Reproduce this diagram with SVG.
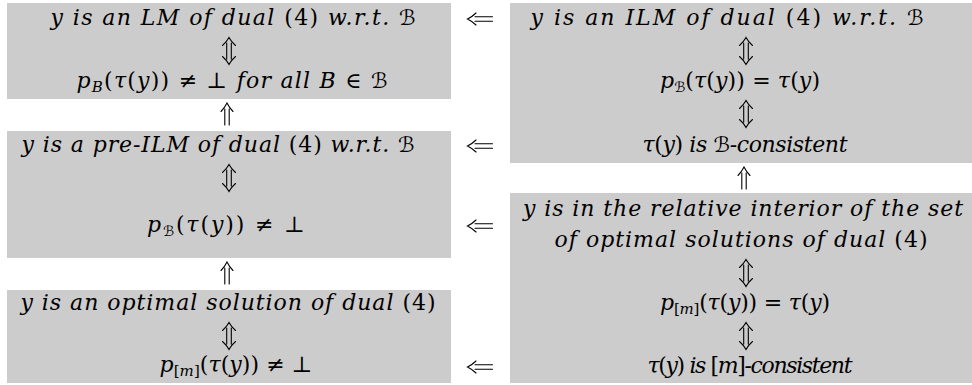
<svg xmlns="http://www.w3.org/2000/svg" xmlns:xlink="http://www.w3.org/1999/xlink" width="972" height="385" viewBox="0 0 972 385">
<style>
.box{fill:#cccccc;stroke:none}
.t{font-family:"DejaVu Serif","Liberation Serif",serif;font-size:22px;font-style:italic;fill:#000;text-anchor:middle}
.u{font-style:normal}
.s{font-size:15px}
.m{font-family:"DejaVu Serif","DejaVu Sans",serif;font-style:normal;font-size:21px}
.sm{font-family:"DejaVu Serif","DejaVu Sans",serif;font-style:normal;font-size:14px}
.arr{fill:none;stroke:#000;stroke-width:1.1;stroke-linecap:round}
</style>
<defs>
<path id="ud" class="arr" d="M-2.3,-8V8M2.3,-8V8M-6.5,-5.5Q-2.5,-9 0,-13.5Q2.5,-9 6.5,-5.5M-6.5,5.5Q-2.5,9 0,13.5Q2.5,9 6.5,5.5"/>
<path id="up" class="arr" d="M-2.2,-5V11M2.2,-5V11M-6,-2.5Q-2.5,-6 0,-11Q2.5,-6 6,-2.5"/>
<path id="lf" class="arr" d="M-5,-2.2H12.5M-5,2.2H12.5M-4,-6Q-7.5,-2.5 -12.5,0Q-7.5,2.5 -4,6"/>
</defs>

<g id="node-lm">
<rect class="box" x="7" y="3" width="444" height="96"/>
<text class="t" x="233" y="25" textLength="365" lengthAdjust="spacing">y is an LM of dual <tspan class="u">(4)</tspan> w.r.t. <tspan class="m">ℬ</tspan></text>
<use xlink:href="#ud" x="229" y="51"/>
<text class="t" x="232" y="88" textLength="311" lengthAdjust="spacing">p<tspan class="s" dy="4">B</tspan><tspan class="u" dy="-4">(</tspan>τ<tspan class="u">(</tspan>y<tspan class="u">)) ≠ ⊥ </tspan>for all B <tspan class="u">∈ </tspan><tspan class="m">ℬ</tspan></text>
</g>

<g id="node-preilm">
<rect class="box" x="7" y="131" width="444" height="127"/>
<text class="t" x="218" y="152" textLength="393" lengthAdjust="spacing">y is a pre-ILM of dual <tspan class="u">(4)</tspan> w.r.t. <tspan class="m">ℬ</tspan></text>
<use xlink:href="#ud" x="229" y="178"/>
<text class="t" x="226" y="232" textLength="158" lengthAdjust="spacing">p<tspan class="sm" dy="4">ℬ</tspan><tspan class="u" dy="-4">(</tspan>τ<tspan class="u">(</tspan>y<tspan class="u">)) ≠ ⊥</tspan></text>
</g>

<g id="node-opt">
<rect class="box" x="7" y="290" width="444" height="93"/>
<text class="t" x="228" y="310" textLength="415" lengthAdjust="spacing">y is an optimal solution of dual <tspan class="u">(4)</tspan></text>
<use xlink:href="#ud" x="229" y="336"/>
<text class="t" x="236" y="372" textLength="153" lengthAdjust="spacing">p<tspan class="s" dy="4"><tspan class="u">[</tspan>m<tspan class="u">]</tspan></tspan><tspan class="u" dy="-4">(</tspan>τ<tspan class="u">(</tspan>y<tspan class="u">)) ≠ ⊥</tspan></text>
</g>

<g id="node-ilm">
<rect class="box" x="510" y="3" width="462" height="160"/>
<text class="t" x="727" y="25" textLength="393" lengthAdjust="spacing">y is an ILM of dual <tspan class="u">(4)</tspan> w.r.t. <tspan class="m">ℬ</tspan></text>
<use xlink:href="#ud" x="746" y="51"/>
<text class="t" x="740" y="88" textLength="160" lengthAdjust="spacing">p<tspan class="sm" dy="4">ℬ</tspan><tspan class="u" dy="-4">(</tspan>τ<tspan class="u">(</tspan>y<tspan class="u">)) = </tspan>τ<tspan class="u">(</tspan>y<tspan class="u">)</tspan></text>
<use xlink:href="#ud" x="746" y="114"/>
<text class="t" x="745" y="152" textLength="205" lengthAdjust="spacing">τ<tspan class="u">(</tspan>y<tspan class="u">)</tspan> is <tspan class="m">ℬ</tspan>-consistent</text>
</g>

<g id="node-relint">
<rect class="box" x="510" y="193" width="462" height="190"/>
<text class="t" x="743" y="216" textLength="440" lengthAdjust="spacing">y is in the relative interior of the set</text>
<text class="t" x="741" y="247" textLength="373" lengthAdjust="spacing">of optimal solutions of dual <tspan class="u">(4)</tspan></text>
<use xlink:href="#ud" x="746" y="273"/>
<text class="t" x="745" y="310" textLength="170" lengthAdjust="spacing">p<tspan class="s" dy="4"><tspan class="u">[</tspan>m<tspan class="u">]</tspan></tspan><tspan class="u" dy="-4">(</tspan>τ<tspan class="u">(</tspan>y<tspan class="u">)) = </tspan>τ<tspan class="u">(</tspan>y<tspan class="u">)</tspan></text>
<use xlink:href="#ud" x="746" y="336"/>
<text class="t" x="750" y="373" textLength="205" lengthAdjust="spacing">τ<tspan class="u">(</tspan>y<tspan class="u">)</tspan> is <tspan class="u">[</tspan>m<tspan class="u">]</tspan>-consistent</text>
</g>

<g id="connectors">
<use xlink:href="#lf" x="480" y="19"/>
<use xlink:href="#lf" x="480" y="146"/>
<use xlink:href="#lf" x="480" y="226"/>
<use xlink:href="#lf" x="480" y="367"/>
<use xlink:href="#up" x="227" y="114"/>
<use xlink:href="#up" x="227" y="273"/>
<use xlink:href="#up" x="744" y="178"/>
</g>
</svg>
